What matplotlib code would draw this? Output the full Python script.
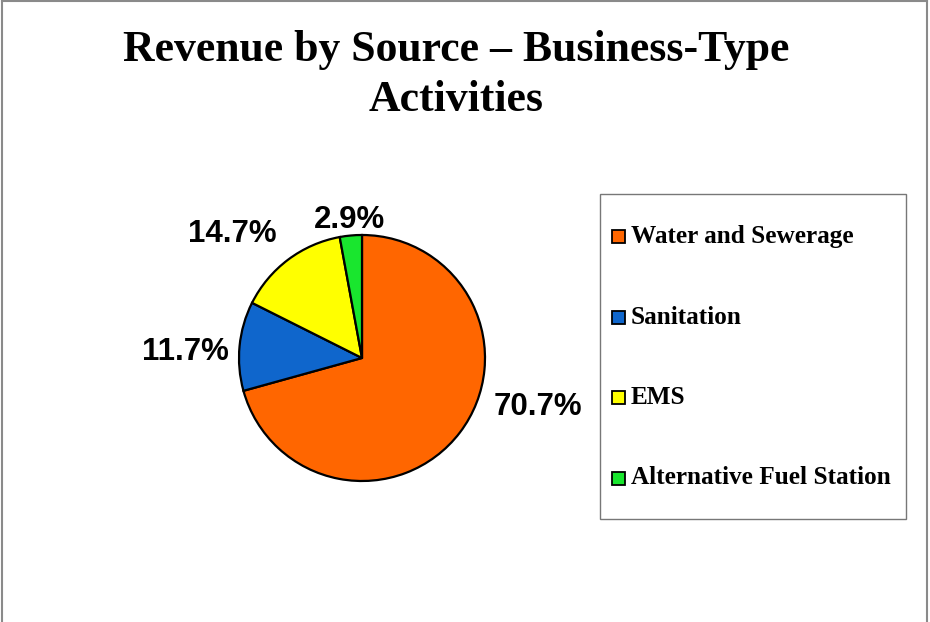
import matplotlib.pyplot as plt
from matplotlib.patches import Rectangle
from matplotlib.lines import Line2D

# revenue shares (%)
sources = ["Water and Sewerage", "Sanitation", "EMS", "Alternative Fuel Station"]
shares = [70.7, 11.7, 14.7, 2.9]
colors = ["#FF6600", "#0F66CC", "#FFFF00", "#19E62E"]

# where the percentage labels sit, in pie units from the centre
label_pos = [(1.431, -0.395), (-1.435, 0.045), (-1.053, 1.005), (-0.098, 1.121)]

W, H = 930, 622
fig = plt.figure(figsize=(W / 100, H / 100), dpi=100)


def px(x, y):
    # pixel position (top-left origin) -> figure fraction
    return x / W, 1 - y / H


# pie axes: centre (362, 358), radius 123 px
cx, cy, r = 362, 358, 123
lim = 1.03
half = r * lim
ax = fig.add_axes([(cx - half) / W, (H - cy - half) / H, 2 * half / W, 2 * half / H])
wedges, _ = ax.pie(shares, colors=colors, startangle=90, counterclock=False,
                   wedgeprops=dict(edgecolor="black", linewidth=1.6))
ax.set_xlim(-lim, lim)
ax.set_ylim(-lim, lim)
ax.set_aspect("equal")
ax.axis("off")

for v, (lx, ly) in zip(shares, label_pos):
    ax.text(lx, ly, f"{v}%", ha="center", va="center", fontsize=22.5,
            fontweight="bold", family="Liberation Sans", clip_on=False)

# title
fig.text(*px(456, 50), "Revenue by Source \u2013 Business-Type", ha="center", va="center",
         fontsize=31.5, fontweight="bold", family="Liberation Serif")
fig.text(*px(456, 100), "Activities", ha="center", va="center",
         fontsize=31.5, fontweight="bold", family="Liberation Serif")

# legend box
x0, y0 = px(600, 519)
x1, y1 = px(906, 194)
fig.add_artist(Rectangle((x0, y0), x1 - x0, y1 - y0, transform=fig.transFigure,
                         facecolor="white", edgecolor="#777777", linewidth=1))
rows = [236, 317, 397, 478]
for w, name, yy in zip(wedges, sources, rows):
    sx, sy = px(612, yy + 7)
    fig.add_artist(Rectangle((sx, sy), 13 / W, 13 / H, transform=fig.transFigure,
                             facecolor=w.get_facecolor(), edgecolor="black", linewidth=1.3))
    fig.text(*px(631, yy), name, ha="left", va="center", fontsize=18.2,
             fontweight="bold", family="Liberation Serif")

# slide border
for xs, ys in [((2, 2), (1, 622)), ((2, 927), (1, 1)), ((927, 927), (1, 622))]:
    fig.add_artist(Line2D([x / W for x in xs], [1 - y / H for y in ys],
                          transform=fig.transFigure, color="#8a8a8a", linewidth=1.5))

fig.savefig("out.png", dpi=100)
